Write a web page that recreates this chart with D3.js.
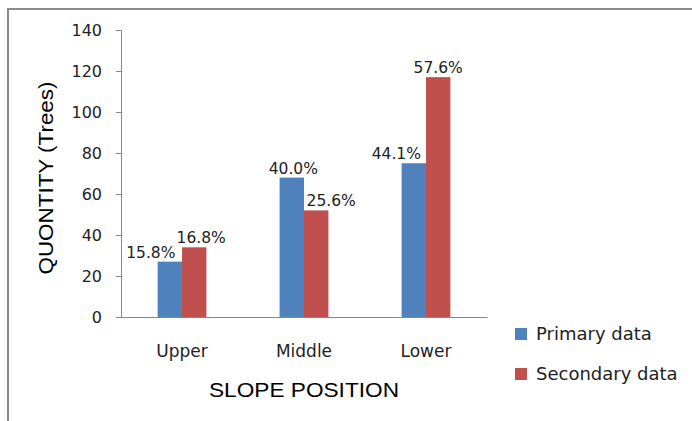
<!DOCTYPE html>
<html>
<head>
<meta charset="utf-8">
<script src="https://cdn.jsdelivr.net/npm/d3@7"></script>
<style>
    body { margin: 0; background: #fff; }
    svg { display: block; }
</style>
</head>
<body>
<div id="chart"></div>
<script>
// chart data
const categories = ["Upper", "Middle", "Lower"];
const seriesNames = ["Primary data", "Secondary data"];
const primaryData = [27, 68, 75];
const secondaryData = [34, 52, 117];
const primaryLabels = ["15.8%", "40.0%", "44.1%"];
const secondaryLabels = ["16.8%", "25.6%", "57.6%"];
const yTicks = [0, 20, 40, 60, 80, 100, 120, 140];

const colors = ["#4F81BD", "#C0504D"];
const labelFont = "DejaVu Sans";

let svg = d3.select("#chart")
    .append("svg")
    .attr("width", 692)
    .attr("height", 421);

// outer chart frame (only top and left edges visible)
svg.append("rect")
    .attr("x", 8)
    .attr("y", 9)
    .attr("width", 720)
    .attr("height", 450)
    .attr("fill", "none")
    .attr("stroke", "#8c8c8c")
    .attr("stroke-width", 2);

// scales
let x = d3.scaleBand()
    .domain(categories)
    .range([121, 487])
    .padding(0);

let groupWidth = 48.8;
let x1 = d3.scaleBand()
    .domain(seriesNames)
    .range([0, groupWidth]);

let y = d3.scaleLinear()
    .domain([0, 140])
    .range([317, 30]);

// y axis
let yAxis = d3.axisLeft(y)
    .tickValues(yTicks)
    .tickSize(5)
    .tickPadding(14);

let gy = svg.append("g")
    .attr("transform", "translate(121,0)")
    .call(yAxis);

gy.selectAll("path, line").attr("stroke", "#888");
gy.selectAll("text")
    .attr("font-family", labelFont)
    .attr("font-size", "16px")
    .attr("fill", "#222");

// x axis
let xAxis = d3.axisBottom(x)
    .tickSize(0)
    .tickSizeOuter(0)
    .tickPadding(28);

let gx = svg.append("g")
    .attr("transform", "translate(0,317)")
    .call(xAxis);

gx.selectAll("path").attr("stroke", "#888");
gx.selectAll("text")
    .attr("font-family", labelFont)
    .attr("font-size", "17px")
    .attr("fill", "#222");

// bars
let seriesValues = [primaryData, secondaryData];
let seriesLabels = [primaryLabels, secondaryLabels];

// label nudges to avoid overlap (like the original)
let labelShift = [[-19, 1.5, -17.5], [7, 15, 0]];

seriesNames.forEach((s, si) => {
    let rows = categories.map((c, i) => ({cat: c, value: seriesValues[si][i], label: seriesLabels[si][i], i: i}));

    let barX = d => x(d.cat) + x.bandwidth() / 2 - groupWidth / 2 + x1(s);

    svg.append("g")
        .selectAll("rect")
        .data(rows)
        .enter()
        .append("rect")
        .attr("x", barX)
        .attr("y", d => y(d.value))
        .attr("width", x1.bandwidth())
        .attr("height", d => y(0) - y(d.value))
        .attr("fill", colors[si]);

    svg.append("g")
        .selectAll("text")
        .data(rows)
        .enter()
        .append("text")
        .attr("x", d => barX(d) + x1.bandwidth() / 2 + labelShift[si][d.i])
        .attr("y", d => y(d.value) - 4)
        .attr("text-anchor", "middle")
        .attr("font-family", labelFont)
        .attr("font-size", "15.5px")
        .attr("fill", "#222")
        .text(d => d.label);
});

// axis titles
svg.append("text")
    .attr("x", 304)
    .attr("y", 397)
    .attr("text-anchor", "middle")
    .attr("font-family", "Liberation Sans")
    .attr("font-size", "21px")
    .attr("textLength", 190)
    .attr("lengthAdjust", "spacingAndGlyphs")
    .attr("fill", "#000")
    .text("SLOPE POSITION");

svg.append("text")
    .attr("transform", "translate(53,178) rotate(-90)")
    .attr("text-anchor", "middle")
    .attr("font-family", "Liberation Sans")
    .attr("font-size", "21px")
    .attr("textLength", 193)
    .attr("lengthAdjust", "spacingAndGlyphs")
    .attr("fill", "#000")
    .text("QUONTITY (Trees)");

// legend
let legend = svg.append("g")
    .selectAll("g")
    .data(seriesNames)
    .enter()
    .append("g")
    .attr("transform", (d, i) => "translate(515," + (328 + i * 40) + ")");

legend.append("rect")
    .attr("width", 12)
    .attr("height", 12)
    .attr("fill", (d, i) => colors[i]);

legend.append("text")
    .attr("x", 21)
    .attr("y", 12)
    .attr("font-family", labelFont)
    .attr("font-size", "18px")
    .attr("fill", "#222")
    .text(d => d);
</script>
</body>
</html>
